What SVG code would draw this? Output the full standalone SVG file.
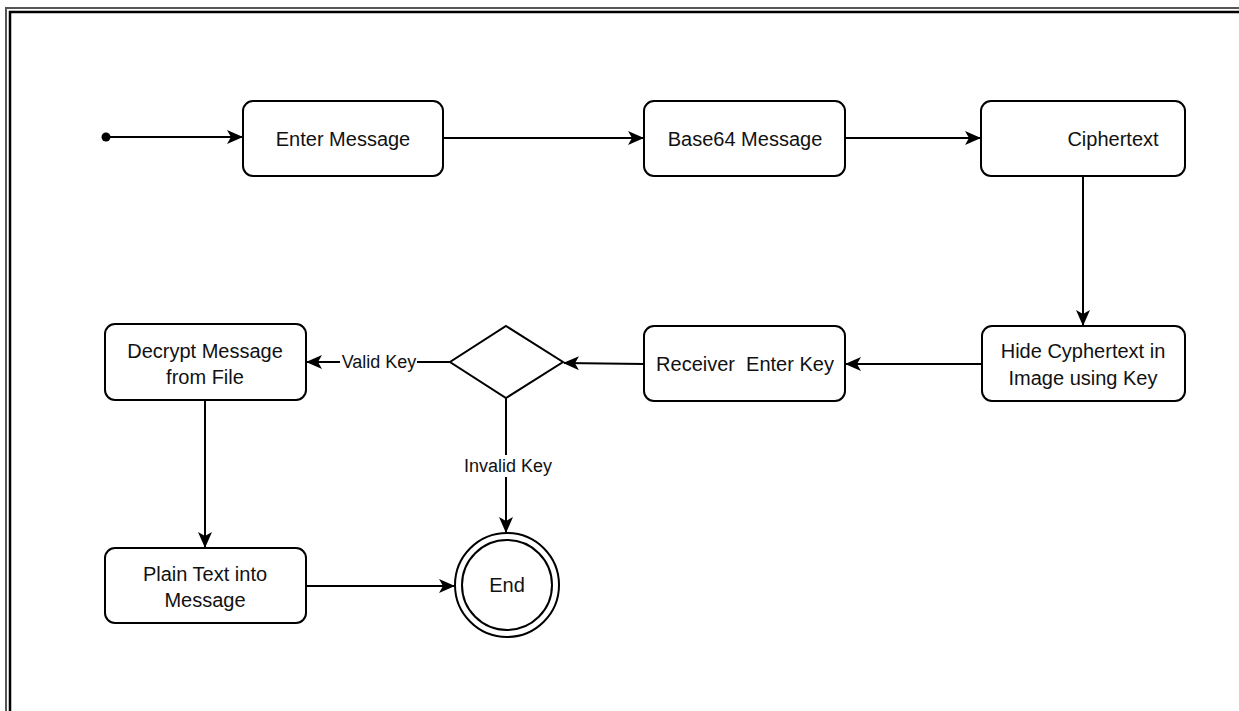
<svg xmlns="http://www.w3.org/2000/svg" width="1239" height="711" viewBox="0 0 1239 711">
  <style>
    .box { fill: #ffffff; stroke: #000000; stroke-width: 2; }
    .edge { fill: none; stroke: #000000; stroke-width: 2; }
    .t { font-family: "Liberation Sans", Arial, Helvetica, sans-serif; font-size: 20px; fill: #111111; text-anchor: middle; dominant-baseline: central; }
    .lbl { font-family: "Liberation Sans", Arial, Helvetica, sans-serif; font-size: 18px; fill: #111111; text-anchor: middle; dominant-baseline: central; }
  </style>
  <defs>
    <marker id="arrow" viewBox="0 0 16 14" refX="15" refY="7" markerWidth="16" markerHeight="14" markerUnits="userSpaceOnUse" orient="auto">
      <path d="M0,0 L16,7 L0,14 L4,7 Z" fill="#000000"/>
    </marker>
  </defs>

  <rect x="0" y="0" width="1239" height="711" fill="#ffffff"/>

  <!-- page frame: double rule on left and top -->
  <g id="frame" fill="none">
    <path d="M6,711 V8 H1239" stroke="#555555" stroke-width="2"/>
    <path d="M10,711 V12 H1239" stroke="#000000" stroke-width="2.5"/>
  </g>

  <!-- connectors -->
  <g id="connectors">
    <path class="edge" d="M105,137 H242" marker-end="url(#arrow)"/>
    <path class="edge" d="M443,138 H643" marker-end="url(#arrow)"/>
    <path class="edge" d="M845,138 H980" marker-end="url(#arrow)"/>
    <path class="edge" d="M1083,176 V325" marker-end="url(#arrow)"/>
    <path class="edge" d="M982,364 H846" marker-end="url(#arrow)"/>
    <path class="edge" d="M644,364 L564,363" marker-end="url(#arrow)"/>
    <path class="edge" d="M450,362 H307" marker-end="url(#arrow)"/>
    <path class="edge" d="M506,398 V532" marker-end="url(#arrow)"/>
    <path class="edge" d="M205,400 V547" marker-end="url(#arrow)"/>
    <path class="edge" d="M306,586 H454" marker-end="url(#arrow)"/>
    <rect x="340" y="352" width="77" height="20" fill="#ffffff"/>
    <text class="lbl" x="379" y="362">Valid Key</text>
    <rect x="463" y="455" width="90" height="22" fill="#ffffff"/>
    <text class="lbl" x="508" y="466">Invalid Key</text>
  </g>

  <g id="start">
    <circle cx="106" cy="137" r="4.5" fill="#000000"/>
  </g>

  <g id="enter-message">
    <rect class="box" x="243" y="101" width="200" height="75" rx="10"/>
    <text class="t" x="343" y="139">Enter Message</text>
  </g>

  <g id="base64-message">
    <rect class="box" x="644" y="101" width="201" height="75" rx="10"/>
    <text class="t" x="745" y="139">Base64 Message</text>
  </g>

  <g id="ciphertext">
    <rect class="box" x="981" y="101" width="204" height="75" rx="10"/>
    <text class="t" x="1113" y="139">Ciphertext</text>
  </g>

  <g id="hide-cyphertext">
    <rect class="box" x="982" y="326" width="203" height="75" rx="10"/>
    <text class="t" x="1083" y="351">Hide Cyphertext in</text>
    <text class="t" x="1083" y="378">Image using Key</text>
  </g>

  <g id="receiver-enter-key">
    <rect class="box" x="644" y="326" width="201" height="75" rx="10"/>
    <text class="t" x="745" y="364" xml:space="preserve">Receiver  Enter Key</text>
  </g>

  <g id="key-check">
    <path class="box" d="M506,326 L563,362 L506,398 L450,362 Z"/>
  </g>

  <g id="decrypt-message">
    <rect class="box" x="105" y="324" width="201" height="76" rx="10"/>
    <text class="t" x="205" y="351">Decrypt Message</text>
    <text class="t" x="205" y="377">from File</text>
  </g>

  <g id="plain-text">
    <rect class="box" x="105" y="548" width="201" height="75" rx="10"/>
    <text class="t" x="205" y="574">Plain Text into</text>
    <text class="t" x="205" y="600">Message</text>
  </g>

  <g id="end">
    <circle cx="507" cy="585" r="52" fill="#ffffff" stroke="#000000" stroke-width="2"/>
    <circle cx="507" cy="585" r="45" fill="none" stroke="#000000" stroke-width="2"/>
    <text class="t" x="507" y="585">End</text>
  </g>
</svg>
